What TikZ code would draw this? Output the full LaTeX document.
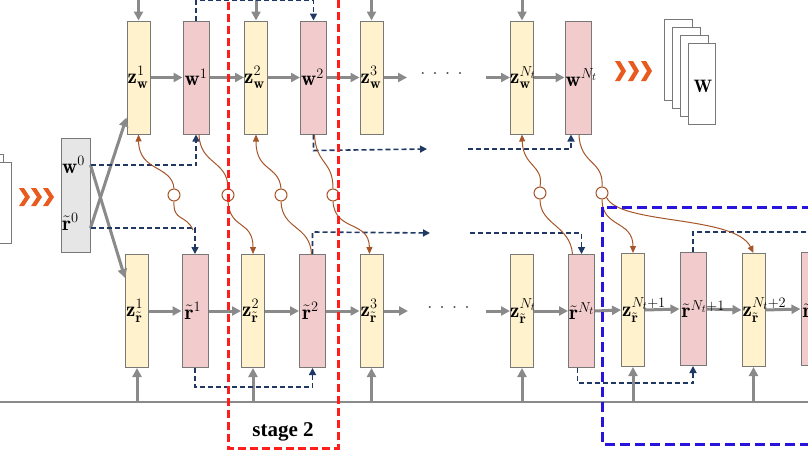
\documentclass[tikz,border=0pt]{standalone}
\usepackage{amsmath}
\usepackage{fontspec}
\newfontfamily\timesbf{Liberation Serif}
\usetikzlibrary{arrows.meta,calc}
\definecolor{zyel}{RGB}{255,242,204}
\definecolor{rpink}{RGB}{242,204,204}
\definecolor{bgray}{RGB}{230,230,230}
\definecolor{edgegray}{RGB}{120,120,120}
\definecolor{argray}{RGB}{138,138,138}
\definecolor{navy}{RGB}{31,56,100}
\definecolor{brn}{RGB}{165,85,40}
\definecolor{stred}{RGB}{255,30,30}
\definecolor{stblue}{RGB}{40,20,220}
\definecolor{chev}{RGB}{232,90,30}
\newcommand\mychev[3]{\fill[chev] (#1,#2) -- ++(5,0) -- ++(6,#3/2) -- ++(-6,#3/2) -- ++(-5,0) -- ++(6,-#3/2) -- cycle;}
\begin{document}
\begin{tikzpicture}[x=1pt,y=-1pt,
 zbox/.style={draw=edgegray,fill=zyel,line width=1pt,minimum width=23pt,minimum height=113pt,inner sep=0pt},
 rbox/.style={draw=edgegray,fill=rpink,line width=1pt,minimum width=26pt,minimum height=113pt,inner sep=0pt},
 lab/.style={anchor=west,inner sep=0pt,font=\fontsize{21}{24}\selectfont},
 garr/.style={draw=argray,line width=3pt,-{Triangle[length=9pt,width=9pt]}},
 gline/.style={draw=argray,line width=1.8pt},
 narr/.style={draw=navy,line width=1.6pt,dash pattern=on 5pt off 3pt,-{Triangle[length=7pt,width=7pt]}},
 nline/.style={draw=navy,line width=1.6pt,dash pattern=on 5pt off 3pt},
 barr/.style={draw=brn,line width=1pt,-{Triangle[length=7pt,width=6pt]}},
 bline/.style={draw=brn,line width=1pt},
 knot/.style={circle,draw=brn,fill=white,line width=1pt,minimum size=12pt,inner sep=0pt},
 sheet/.style={draw=edgegray,fill=white,line width=1pt},
 dotf/.style={inner sep=0pt,text=black!75,font=\fontsize{24}{26}\selectfont},
]
\useasboundingbox (0,0) rectangle (808,455);

% left stack and chevrons
\draw[sheet] (-25,154) rectangle (3,235);
\draw[sheet] (-17,162) rectangle (11,243);
\mychev{19}{188}{18}
\mychev{31}{188}{18}
\mychev{43}{188}{18}

% initial gray box
\node[draw=edgegray,fill=bgray,line width=1pt,minimum width=29pt,minimum height=114pt,inner sep=0pt] (g0) at (75.5,195) {};

% top row
\node[zbox] (zw1) at (138.5,77.5) {};
\node[rbox] (w1) at (196,77.5) {};
\node[zbox] (zw2) at (256,77.5) {};
\node[rbox] (w2) at (313.5,77.5) {};
\node[zbox] (zw3) at (371.5,77.5) {};
\node[zbox] (zwN) at (522,77.5) {};
\node[rbox] (wN) at (578,77.5) {};

% bottom row
\node[zbox] (zr1) at (137,311) {};
\node[rbox] (r1) at (195,311) {};
\node[zbox] (zr2) at (253,311) {};
\node[rbox] (r2) at (312.5,311) {};
\node[zbox] (zr3) at (371.5,311) {};
\node[zbox] (zrN) at (522,311) {};
\node[rbox] (rN) at (581.5,311) {};
\node[zbox] (zrN1) at (633,310) {};
\node[rbox] (rN1) at (693,309) {};
\node[zbox] (zrN2) at (753.5,310) {};
\node[rbox] (rN2) at (814,309) {};

% W stack and chevrons
\draw[sheet] (664,19) rectangle (692,100);
\draw[sheet] (672,27) rectangle (700,108);
\draw[sheet] (680,35) rectangle (708,116);
\node[sheet,minimum width=27pt,minimum height=81pt,inner sep=0pt] (Wst) at (701.5,83.5) {};
\node[inner sep=0pt,font=\fontsize{18}{20}\selectfont] (Wlab) at (703,86) {$\mathbf{W}$};
\mychev{615}{61}{20}
\mychev{628}{61}{20}
\mychev{641}{61}{20}

% gray horizontal arrows, top
\draw[garr] (zw1.east) -- (w1.west);
\draw[garr] (w1.east) -- (zw2.west);
\draw[garr] (zw2.east) -- (w2.west);
\draw[garr] (w2.east) -- (zw3.west);
\coordinate (tgo) at (407,77.5);
\coordinate (tgi) at (486,77.5);
\draw[garr] (zw3.east) -- (tgo);
\draw[garr] (tgi) -- (zwN.west);
\draw[garr] (zwN.east) -- (wN.west);
\node[dotf] (dotsT) at (441.5,74) {.\hspace{6.5pt}.\hspace{6.5pt}.\hspace{6.5pt}.};

% gray horizontal arrows, bottom
\draw[garr] (zr1.east) -- (r1.west);
\draw[garr] (r1.east) -- (zr2.west);
\draw[garr] (zr2.east) -- (r2.west);
\draw[garr] (r2.east) -- (zr3.west);
\coordinate (bgo) at (408,311);
\coordinate (bgi) at (486,311);
\draw[garr] (zr3.east) -- (bgo);
\draw[garr] (bgi) -- (zrN.west);
\node[dotf] (dotsB) at (448.5,308) {.\hspace{6.5pt}.\hspace{6.5pt}.\hspace{6.5pt}.};
\draw[garr] (zrN.east) -- (rN.west);
\draw[garr] (rN.east) -- (zrN1.west);
\draw[garr] (zrN1.east) -- (rN1.west);
\draw[garr] (rN1.east) -- (zrN2.west);
\draw[garr] (zrN2.east) -- (rN2.west);

% top inputs
\coordinate (top) at (0,-3);
\draw[garr] (zw1.north |- top) -- (zw1.north);
\draw[garr] (zw2.north |- top) -- (zw2.north);
\draw[garr] (zw3.north |- top) -- (zw3.north);
\draw[garr] (zwN.north |- top) -- (zwN.north);

% bottom line and inputs
\coordinate (bl0) at (0,402);
\coordinate (bl1) at (808,402);
\draw[gline] (bl0) -- (bl1);
\draw[garr] (zr1.south |- bl0) -- (zr1.south);
\draw[garr] (zr2.south |- bl0) -- (zr2.south);
\draw[garr] (zr3.south |- bl0) -- (zr3.south);
\draw[garr] (zrN.south |- bl0) -- (zrN.south);
\draw[garr] (zrN1.south |- bl0) -- (zrN1.south);
\draw[garr] (zrN2.south |- bl0) -- (zrN2.south);

% crossing arrows from gray box
\coordinate (g0w) at (90.5,165);
\coordinate (g0r) at (90.5,228);
\draw[garr] (g0r) -- ($(zw1.south west)+(0,-17)$);
\draw[garr] (g0w) -- ($(zr1.north west)+(0,24)$);

% navy dashed connectors
\draw[narr] (g0w) -| (w1.south);
\draw[narr] (g0r) -| (r1.north);
\draw[narr] (w1.north) -- ++(0,-20) -| (w2.north);
\coordinate (nt1) at (427,149);
\coordinate (nt2) at (468,149);
\draw[narr] (w2.south) -- ++(0,16) -- (nt1);
\draw[narr] (nt2) -| ($(wN.south)+(-7,0)$);
\draw[narr] (r1.south) -- ++(0,19) -| (r2.south);
\coordinate (nb1) at (430,233);
\coordinate (nb2) at (470,233);
\draw[narr] (r2.north) -- ++(0,-22) -- (nb1);
\draw[narr] (nb2) -| (rN.north);
\draw[narr] ($(rN.south)+(-4,0)$) -- ++(0,15) -| (rN1.south);
\coordinate (nr) at (820,232);
\draw[nline] (rN1.north) -- ++(0,-20) -- (nr);

% brown curves with knots
\node[knot] (k1) at (174,195) {};
\node[knot] (k2) at (228,195) {};
\node[knot] (k3) at (281,195) {};
\node[knot] (k4) at (333,195) {};
\node[knot] (k5) at (540,193) {};
\node[knot] (k6) at (602,193) {};
\coordinate (cb1) at (193,230);
\draw[bline] (cb1) .. controls (186,214) and (173,222) .. (k1.south);
\draw[barr] (k1.north) .. controls (172,165) and (139,172) .. (zw1.south);
\draw[bline] ($(w1.south)+(3,0)$) .. controls (200,165) and (228,160) .. (k2.north);
\draw[barr] (k2.south) .. controls (230,230) and (253,220) .. (zr2.north);
\draw[barr] (k3.north) .. controls (279,165) and (256,172) .. (zw2.south);
\draw[bline] ($(r2.north)+(-1,0)$) .. controls (310,225) and (282,230) .. (k3.south);
\draw[bline] ($(w2.south)+(1,0)$) .. controls (316,165) and (333,160) .. (k4.north);
\draw[barr] (k4.south) .. controls (335,232) and (369,220) .. ($(zr3.north)+(-2,0)$);
\draw[barr] (k5.north) .. controls (544,165) and (523,167) .. (zwN.south);
\draw[bline] ($(rN.north)+(-9,0)$) .. controls (570,225) and (540,225) .. (k5.south);
\draw[bline] ($(wN.south)+(1,0)$) .. controls (580,165) and (604,160) .. (k6.north);
\draw[barr] (k6.south) .. controls (602,228) and (633,220) .. (zrN1.north);
\draw[barr] (k6.south east) .. controls (620,225) and (735,215) .. (zrN2.north);

% labels
\node[lab] (lw0) at (62,165) {$\mathbf{w}^{0}$};
\node[lab] (lr0) at (62,222) {$\tilde{\mathbf{r}}^{0}$};
\node[lab] (lzw1) at ($(zw1.west)+(1,0)$) {$\mathbf{z}_{\mathbf{w}}^{1}$};
\node[lab] (lw1) at ($(w1.west)+(2,0)$) {$\mathbf{w}^{1}$};
\node[lab] (lzw2) at ($(zw2.west)+(0,0)$) {$\mathbf{z}_{\mathbf{w}}^{2}$};
\node[lab] (lw2) at ($(w2.west)+(1,0)$) {$\mathbf{w}^{2}$};
\node[lab] (lzw3) at ($(zw3.west)+(1,0)$) {$\mathbf{z}_{\mathbf{w}}^{3}$};
\node[lab] (lzwN) at ($(zwN.west)+(0,0)$) {$\mathbf{z}_{\mathbf{w}}^{N_t}$};
\node[lab] (lwN) at ($(wN.west)+(1,0)$) {$\mathbf{w}^{N_t}$};
\node[lab] (lzr1) at ($(zr1.west)+(1,0)$) {$\mathbf{z}_{\tilde{\mathbf{r}}}^{1}$};
\node[lab] (lr1) at ($(r1.west)+(3,0)$) {$\tilde{\mathbf{r}}^{1}$};
\node[lab] (lzr2) at ($(zr2.west)+(1,0)$) {$\mathbf{z}_{\tilde{\mathbf{r}}}^{2}$};
\node[lab] (lr2) at ($(r2.west)+(3,0)$) {$\tilde{\mathbf{r}}^{2}$};
\node[lab] (lzr3) at ($(zr3.west)+(1,0)$) {$\mathbf{z}_{\tilde{\mathbf{r}}}^{3}$};
\node[lab] (lzrN) at ($(zrN.west)+(0,0)$) {$\mathbf{z}_{\tilde{\mathbf{r}}}^{N_t}$};
\node[lab] (lrN) at ($(rN.west)+(1,0)$) {$\tilde{\mathbf{r}}^{N_t}$};
\node[lab] (lzrN1) at ($(zrN1.west)+(1,0)$) {$\mathbf{z}_{\tilde{\mathbf{r}}}^{N_t+1}$};
\node[lab] (lrN1) at ($(rN1.west)+(2,0)$) {$\tilde{\mathbf{r}}^{N_t+1}$};
\node[lab] (lzrN2) at ($(zrN2.west)+(1,0)$) {$\mathbf{z}_{\tilde{\mathbf{r}}}^{N_t+2}$};
\node[lab] (lrN2) at ($(rN2.west)+(2,0)$) {$\tilde{\mathbf{r}}^{N_t+2}$};

% stage frames
\draw[stred,line width=3pt,dash pattern=on 8pt off 4pt] (228,-10) rectangle (338,448);
\node[inner sep=0pt,font=\timesbf\bfseries\fontsize{21}{24}\selectfont] (st2) at (283,432) {stage 2};
\draw[stblue,line width=3pt,dash pattern=on 10pt off 5pt] (602,207) rectangle (830,444);
\end{tikzpicture}
\end{document}
